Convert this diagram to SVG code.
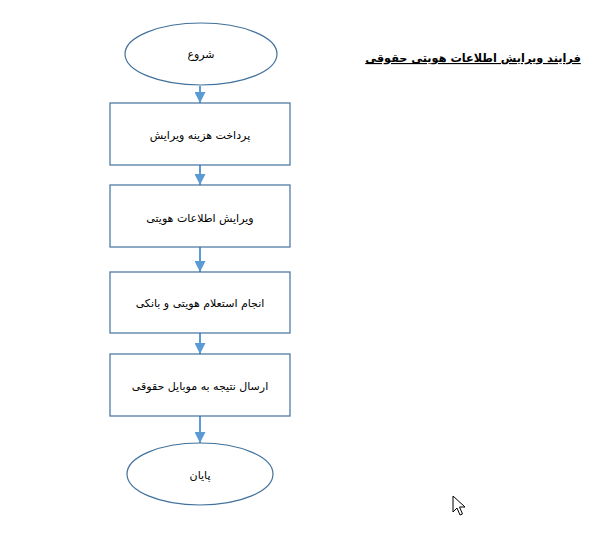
<svg xmlns="http://www.w3.org/2000/svg" width="611" height="541" viewBox="0 0 611 541">
<defs>
<style>
.shape{fill:#ffffff;stroke:#41719c;stroke-width:1.2}
.lbl{font-family:"DejaVu Sans","Noto Sans",sans-serif;font-size:11px;fill:#000000;text-anchor:middle}
.conn{stroke:#5b9bd5;stroke-width:2;fill:none}
.title{font-family:"DejaVu Sans","Noto Sans",sans-serif;font-size:11.3px;font-weight:bold;fill:#000000;text-anchor:middle;text-decoration:underline}
</style>
<marker id="ah" viewBox="0 0 10 10" refX="10" refY="5" markerWidth="5.5" markerHeight="5.5" orient="auto" markerUnits="strokeWidth">
<path d="M0,0 L10,5 L0,10 z" fill="#5b9bd5"/>
</marker>
</defs>
<rect width="611" height="541" fill="#ffffff"/>
<text class="title" x="473" y="62" direction="rtl">فرایند ویرایش اطلاعات هویتی حقوقی</text>
<g id="connectors">
<line class="conn" x1="200" y1="86" x2="200" y2="103" marker-end="url(#ah)"/>
<line class="conn" x1="200" y1="165" x2="200" y2="185" marker-end="url(#ah)"/>
<line class="conn" x1="200" y1="247" x2="200" y2="272" marker-end="url(#ah)"/>
<line class="conn" x1="200" y1="333" x2="200" y2="354" marker-end="url(#ah)"/>
<line class="conn" x1="200" y1="416" x2="200" y2="443" marker-end="url(#ah)"/>
</g>
<g id="start">
<ellipse class="shape" cx="201" cy="54" rx="76" ry="31"/>
<text class="lbl" x="201" y="58" direction="rtl">شروع</text>
</g>
<g id="pay">
<rect class="shape" x="110" y="103" width="180" height="62"/>
<text class="lbl" x="200" y="139" direction="rtl">پرداخت هزینه ویرایش</text>
</g>
<g id="edit">
<rect class="shape" x="110" y="185" width="180" height="62"/>
<text class="lbl" x="200" y="222" direction="rtl">ویرایش اطلاعات هویتی</text>
</g>
<g id="inquiry">
<rect class="shape" x="110" y="272" width="180" height="61"/>
<text class="lbl" x="200" y="307" direction="rtl">انجام استعلام هویتی و بانکی</text>
</g>
<g id="send">
<rect class="shape" x="110" y="354" width="180" height="62"/>
<text class="lbl" x="200" y="390" direction="rtl">ارسال نتیجه به موبایل حقوقی</text>
</g>
<g id="end">
<ellipse class="shape" cx="200" cy="474" rx="73" ry="31"/>
<text class="lbl" x="200" y="479" direction="rtl">پایان</text>
</g>
<polygon points="453,496 453,512 457,508 460,515 462.5,514 459.5,507 465,507" fill="#ffffff" stroke="#000000" stroke-width="1"/>
</svg>
